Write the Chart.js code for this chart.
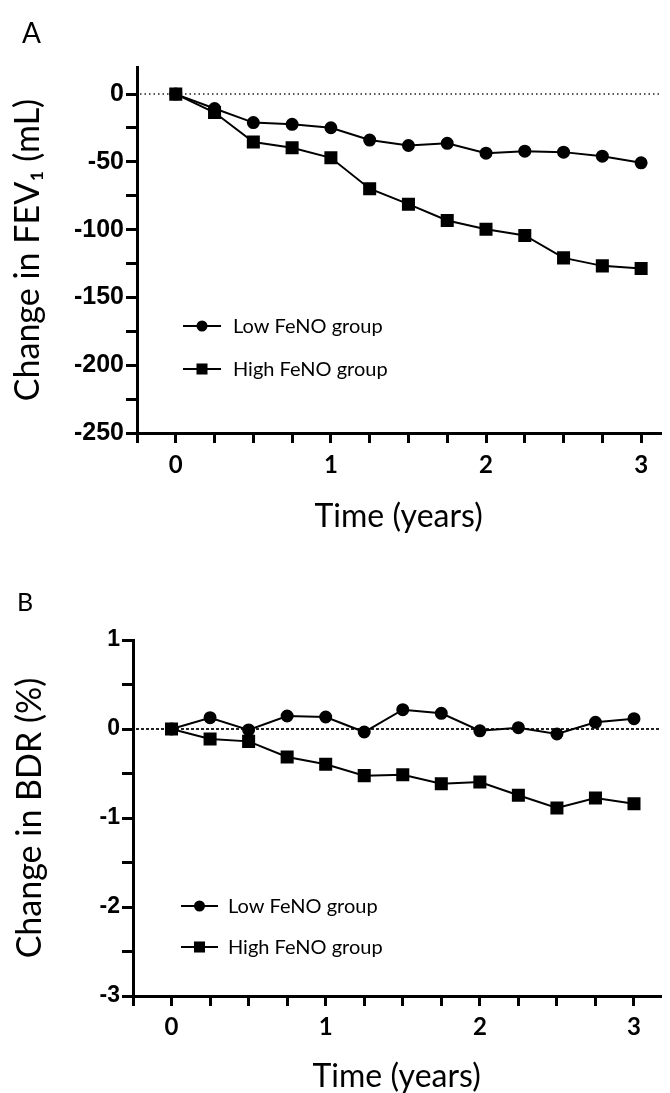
<!DOCTYPE html>
<html>
<head>
<meta charset="utf-8">
<script src="https://cdn.jsdelivr.net/npm/chart.js@4.4.0/dist/chart.umd.min.js"></script>
<style>
  body { margin: 0; background: #fff; width: 670px; height: 1093px; position: relative; overflow: hidden; }
  canvas { position: absolute; left: 0; }
  .letter { position: absolute; font-family: 'Lato', sans-serif; line-height: 1; color: #000; z-index: 2; }
</style>
</head>
<body>
<canvas id="fev1-chart" width="670" height="546" style="top:0"></canvas>
<canvas id="bdr-chart" width="670" height="547" style="top:546px"></canvas>
<div class="letter" style="left:22px;top:18px;font-size:28px">A</div>
<div class="letter" style="left:17px;top:589px;font-size:25px">B</div>
<script>
const timeYears = [0, 0.25, 0.5, 0.75, 1, 1.25, 1.5, 1.75, 2, 2.25, 2.5, 2.75, 3]
const groupNames = ['Low FeNO group', 'High FeNO group']
const fev1Low = [0, -10.6, -21, -22.3, -24.8, -33.9, -37.9, -36.3, -43.6, -42.1, -42.8, -45.8, -50.7]
const fev1High = [0, -13.6, -35.4, -39.6, -47, -69.8, -81.2, -93.2, -99.7, -104.3, -120.8, -126.7, -128.7]
const bdrLow = [0, 0.127, -0.01, 0.146, 0.135, -0.034, 0.217, 0.176, -0.02, 0.015, -0.056, 0.075, 0.116]
const bdrHigh = [0, -0.112, -0.139, -0.315, -0.397, -0.524, -0.513, -0.614, -0.596, -0.745, -0.888, -0.775, -0.839]

// tick positions (labels only on the whole numbers)
const xTicks = [-0.25, 0, 0.25, 0.5, 0.75, 1, 1.25, 1.5, 1.75, 2, 2.25, 2.5, 2.75, 3]
const xTickLabels = ['0', '1', '2', '3']
const fev1Ticks = [-250, -225, -200, -175, -150, -125, -100, -75, -50, -25, 0]
const fev1TickLabels = ['-250', '-200', '-150', '-100', '-50', '0']
const bdrTicks = [-3, -2.5, -2, -1.5, -1, -0.5, 0, 0.5, 1]
const bdrTickLabels = ['-3', '-2', '-1', '0', '1']

function toPoints(values) {
  return values.map((v, i) => ({ x: timeYears[i], y: v }))
}

function labelFor(labels) {
  return v => {
    const s = String(Math.round(v * 100) / 100)
    return labels.includes(s) ? s : ''
  }
}

// dotted reference line at y = 0
const zeroLine = {
  id: 'zeroLine',
  beforeDatasetsDraw(chart, args, opts) {
    const { ctx, chartArea, scales } = chart
    const y = scales.y.getPixelForValue(0)
    ctx.save()
    ctx.strokeStyle = '#222'
    ctx.lineWidth = opts.width
    ctx.setLineDash(opts.dash)
    ctx.beginPath()
    ctx.moveTo(chartArea.left + 3, y)
    ctx.lineTo(chartArea.right, y)
    ctx.stroke()
    ctx.restore()
  }
}

// legend inside the plot, Prism style
const innerLegend = {
  id: 'innerLegend',
  afterDraw(chart, args, opts) {
    const ctx = chart.ctx
    ctx.save()
    chart.data.datasets.forEach((ds, i) => {
      const y = opts.rows[i]
      ctx.strokeStyle = '#000'
      ctx.fillStyle = '#000'
      ctx.lineWidth = ds.borderWidth
      ctx.beginPath()
      ctx.moveTo(opts.x0, y)
      ctx.lineTo(opts.x1, y)
      ctx.stroke()
      const mx = (opts.x0 + opts.x1) / 2
      if (ds.pointStyle === 'rect') {
        const h = ds.pointRadius * Math.SQRT1_2
        ctx.fillRect(mx - h, y - h, 2 * h, 2 * h)
      } else {
        ctx.beginPath()
        ctx.arc(mx, y, ds.pointRadius, 0, Math.PI * 2)
        ctx.fill()
      }
      ctx.font = '20px Lato'
      ctx.textBaseline = 'middle'
      ctx.fillText(ds.label, opts.tx, y + 1)
    })
    ctx.restore()
  }
}

function makeChart(id, p) {
  return new Chart(document.getElementById(id), {
    type: 'line',
    data: {
      datasets: [
        {
          label: groupNames[0],
          data: toPoints(p.low),
          borderColor: '#000',
          backgroundColor: '#000',
          borderWidth: 2,
          pointStyle: 'circle',
          pointRadius: 5.5,
          tension: 0,
          order: 1
        },
        {
          label: groupNames[1],
          data: toPoints(p.high),
          borderColor: '#000',
          backgroundColor: '#000',
          borderWidth: 2,
          pointStyle: 'rect',
          pointRadius: 7.8,
          tension: 0,
          order: 0
        }
      ]
    },
    options: {
      responsive: false,
      animation: false,
      devicePixelRatio: 1,
      layout: { padding: { top: p.top, left: 0, right: 0, bottom: 0 } },
      scales: {
        x: {
          type: 'linear',
          min: -0.25,
          max: p.xMax,
          afterFit(scale) { scale.height = p.xHeight },
          afterBuildTicks(scale) { scale.ticks = xTicks.map(v => ({ value: v })) },
          ticks: {
            autoSkip: false,
            maxRotation: 0,
            padding: p.xTickPad,
            color: '#000',
            font: { family: 'Lato', weight: 'bold', size: 24, lineHeight: 1 },
            callback: labelFor(xTickLabels)
          },
          grid: { drawOnChartArea: false, tickLength: 10, color: '#000', lineWidth: 3 },
          border: { color: '#000', width: 3 },
          title: {
            display: true,
            text: 'Time (years)',
            color: '#000',
            font: { family: 'Lato', size: 32, lineHeight: 1 },
            padding: { top: 0, bottom: p.xTitlePad }
          }
        },
        y: {
          min: p.yMin,
          max: p.yMax,
          afterFit(scale) { scale.width = p.yWidth },
          afterBuildTicks(scale) { scale.ticks = p.yTicks.map(v => ({ value: v })) },
          ticks: {
            autoSkip: false,
            padding: 2,
            color: '#000',
            font: { family: "'Liberation Sans', Arial, sans-serif", weight: 'bold', size: p.yFont },
            callback: labelFor(p.yLabels)
          },
          grid: { drawOnChartArea: false, tickLength: 11, color: '#000', lineWidth: 3 },
          border: { color: '#000', width: 3 },
          title: {
            display: true,
            text: p.yTitle,
            color: '#000',
            font: { family: 'Lato', size: 34, lineHeight: 1 },
            padding: { top: p.yTitlePad, bottom: 0 }
          }
        }
      },
      plugins: {
        legend: { display: false },
        tooltip: { enabled: false },
        zeroLine: { width: p.zeroWidth, dash: p.zeroDash },
        innerLegend: p.legend
      }
    },
    plugins: [zeroLine, innerLegend]
  })
}

makeChart('fev1-chart', {
  low: fev1Low,
  high: fev1High,
  top: 67,
  xMax: 3.123,
  xHeight: 113,
  xTickPad: 10,
  xTitlePad: 13,
  yMin: -250,
  yMax: 20,
  yTicks: fev1Ticks,
  yLabels: fev1TickLabels,
  yWidth: 137,
  yFont: 25,
  yTitle: 'Change in FEV\u2081 (mL)',
  yTitlePad: 11,
  zeroWidth: 1.5,
  zeroDash: [1.5, 3],
  legend: { rows: [326, 369], x0: 183, x1: 221, tx: 233 }
})

makeChart('bdr-chart', {
  low: bdrLow,
  high: bdrHigh,
  top: 94,
  xMax: 3.17,
  xHeight: 97,
  xTickPad: 9,
  xTitlePad: 0,
  yMin: -3,
  yMax: 1,
  yTicks: bdrTicks,
  yLabels: bdrTickLabels,
  yWidth: 133,
  yFont: 23,
  yTitle: 'Change in BDR (%)',
  yTitlePad: 13,
  zeroWidth: 2,
  zeroDash: [3, 2],
  legend: { rows: [360, 401], x0: 181, x1: 218, tx: 228 }
})
</script>
</body>
</html>
